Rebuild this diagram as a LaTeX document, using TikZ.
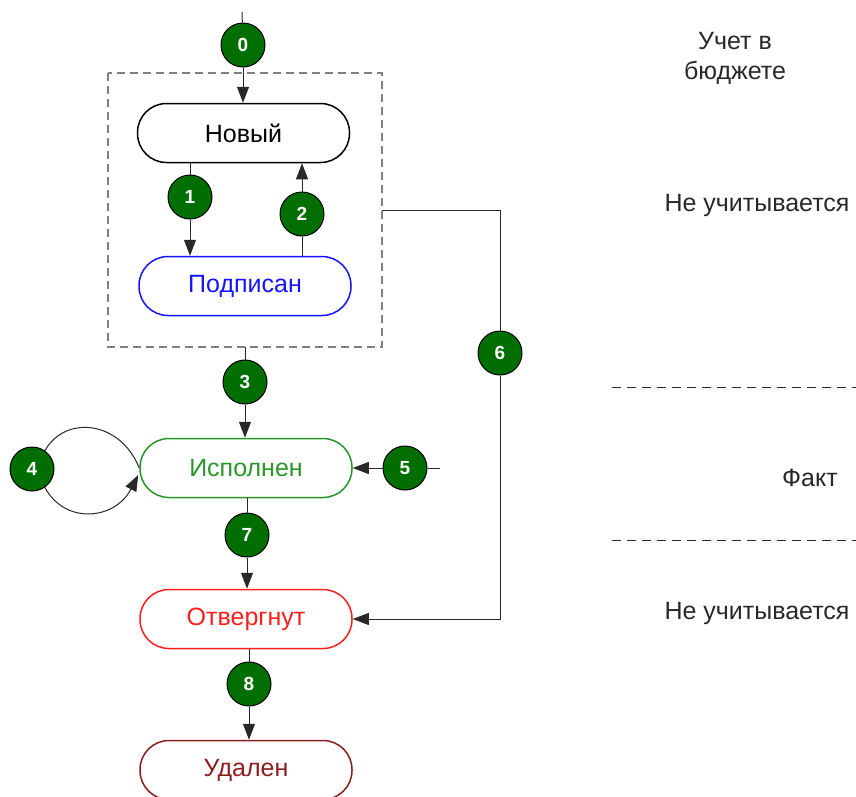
\documentclass[tikz,border=0pt]{standalone}
\usepackage{fontspec}
\setmainfont{Liberation Sans}
\usetikzlibrary{arrows.meta,calc}
\definecolor{cgreen}{RGB}{0,110,0}
\definecolor{sgreen}{RGB}{40,150,40}
\definecolor{sred}{RGB}{255,30,30}
\definecolor{sdred}{RGB}{140,30,30}
\definecolor{sblue}{RGB}{20,20,255}
\definecolor{txtgray}{RGB}{40,40,40}
\tikzset{
  state/.style={draw, line width=1.5pt, rounded corners=29pt, minimum width=212pt, minimum height=59pt, font=\fontsize{25}{28}\selectfont, inner sep=0pt},
  num/.style={circle, draw=black, line width=1pt, fill=cgreen, minimum size=44pt, inner sep=0pt, text=white, font=\fontsize{19}{20}\selectfont\bfseries},
  conn/.style={line width=1pt, draw=txtgray},
  arr/.style={conn, -{Triangle[length=16pt,width=12pt]}},
  lbl/.style={font=\fontsize{25}{30}\selectfont, text=txtgray, align=center}
}
\begin{document}
\begin{tikzpicture}[x=1pt,y=-1pt]
\useasboundingbox (0,0) rectangle (856,796);
% group box
\draw[gray, line width=1.5pt, dash pattern=on 8pt off 5pt] (108,73) rectangle (382,347);
\coordinate (boxb) at (245,347);
\coordinate (boxr) at (382,210);
\coordinate (top) at (242,12);
\coordinate (in5) at (440,468);
% states
\node[state] (new) at (243.5,133) {Новый};
\node[state, draw=sblue, text=sblue] (sig) at (245,286) {Подписан};
\node[state, draw=sgreen, text=sgreen] (done) at (246,468) {Исполнен};
\node[state, draw=sred, text=sred] (rej) at (246,619) {Отвергнут};
\node[state, draw=sdred, text=sdred] (del) at (246,770) {Удален};
% numbered circles
\node[num] (n0) at (243,45) {0};
\node[num] (n1) at (190,197) {1};
\node[num] (n2) at (302,214) {2};
\node[num] (n3) at (245,382) {3};
\node[num] (n4) at (32,469) {4};
\node[num] (n5) at (405,468) {5};
\node[num] (n6) at (500,353) {6};
\node[num] (n7) at (247,535) {7};
\node[num] (n8) at (249,684) {8};
% connectors
\draw[conn] (top) -- (n0);
\draw[arr] (n0) -- (new.north -| n0);
\draw[conn] (new.south -| n1) -- (n1);
\draw[arr] (n1) -- (sig.north -| n1);
\draw[conn] (sig.north -| n2) -- (n2);
\draw[arr] (n2) -- (new.south -| n2);
\draw[conn] (boxb) -- (n3);
\draw[arr] (n3) -- (done.north -| n3);
\draw[conn] (in5) -- (n5);
\draw[arr] (n5) -- (done.east);
\draw[conn] (boxr) -| (n6);
\draw[arr] (n6) |- (rej.east);
\draw[conn] (done.south -| n7) -- (n7);
\draw[arr] (n7) -- (rej.north -| n7);
\draw[conn] (rej.south -| n8) -- (n8);
\draw[arr] (n8) -- (del.north -| n8);
\draw[conn] (n4.55) .. controls (65,415) and (120,420) .. (done.west);
\draw[arr] (n4.-55) .. controls (65,525) and (115,520) .. ($(done.west)+(-1,7)$);
% side labels
\node[lbl] (t0) at (735,58) {Учет в\\бюджете};
\node[lbl] (t1) at (757,205) {Не учитывается};
\node[lbl] (t2) at (810,478) {Факт};
\node[lbl] (t3) at (757,613) {Не учитывается};
\coordinate (d1a) at (612,387);
\coordinate (d1b) at (856,387);
\coordinate (d2a) at (612,540);
\coordinate (d2b) at (856,540);
\draw[txtgray, line width=1pt, dash pattern=on 9pt off 6pt] (d1a) -- (d1b);
\draw[txtgray, line width=1pt, dash pattern=on 9pt off 6pt] (d2a) -- (d2b);
\end{tikzpicture}
\end{document}
